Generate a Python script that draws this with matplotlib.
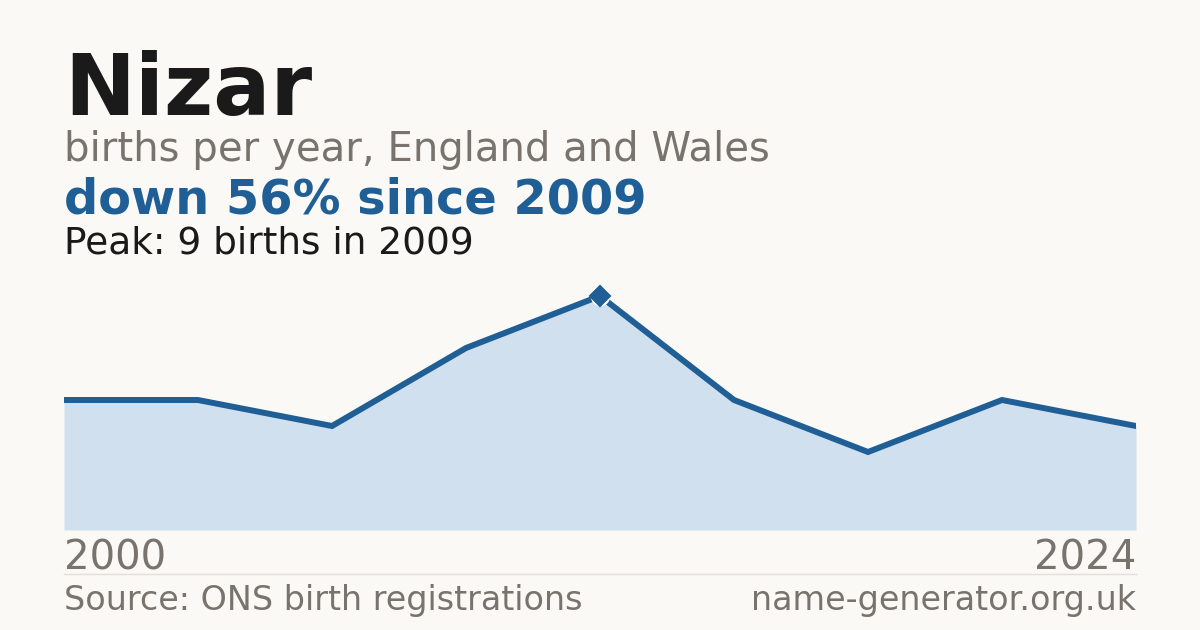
import matplotlib.pyplot as plt

# data (years are evenly spaced points on the x axis)
years = [2000, 2002, 2005, 2007, 2009, 2012, 2016, 2020, 2024]
births = [5, 5, 4, 7, 9, 5, 3, 5, 4]
peak_year = 2009
peak_births = 9

BG = "#faf9f5"
BLUE = "#1f5f96"
FILL = "#d0e0ef"
GREY = "#78736d"
INK = "#1a1a1a"

W, H = 1200, 630
fig = plt.figure(figsize=(12, 6.3), dpi=100, facecolor=BG)

def fx(px):
    return px / W

def fy(py):
    return 1 - py / H

# chart area
left, right, base, top = 64, 1136, 530, 270
ax = fig.add_axes([fx(left), fy(base), fx(right - left), (base - top) / H])
ax.set_facecolor(BG)
xs = list(range(len(years)))
ax.fill_between(xs, births, 0, color=FILL, lw=0)
ax.plot(xs, births, color=BLUE, lw=4.3, solid_joinstyle="miter")
pi = years.index(peak_year)
ax.plot(xs[pi], births[pi], marker="o", ms=14, color="white", mew=0, zorder=4)
ax.plot(xs[pi], births[pi], marker="D", ms=10.5, color=BLUE,
        mec=BLUE, mew=1.5, mfc=BLUE, zorder=5)
ax.set_xlim(0, len(years) - 1)
ax.set_ylim(0, 10)
ax.axis("off")

# headings
fig.text(fx(64), fy(115), "Nizar", fontsize=61, fontweight="bold", color=INK)
fig.text(fx(64), fy(161), "births per year, England and Wales", fontsize=29, color=GREY)
fig.text(fx(64), fy(214), "down 56% since 2009", fontsize=34.5, fontweight="bold", color=BLUE)
fig.text(fx(64), fy(254), f"Peak: {peak_births} births in {peak_year}", fontsize=27, color=INK)

# axis years
fig.text(fx(64), fy(569), str(years[0]), fontsize=29, color=GREY)
fig.text(fx(1136), fy(569), str(years[-1]), fontsize=29, color=GREY, ha="right")

# separator + footer
fig.add_artist(plt.Line2D([fx(64), fx(1136)], [fy(574), fy(574)], color="#e2dfd8", lw=1))
fig.text(fx(64), fy(610), "Source: ONS birth registrations", fontsize=24, color=GREY)
fig.text(fx(1136), fy(610), "name-generator.org.uk", fontsize=24, color=GREY, ha="right")

fig.savefig("out.png", dpi=100, facecolor=BG)
